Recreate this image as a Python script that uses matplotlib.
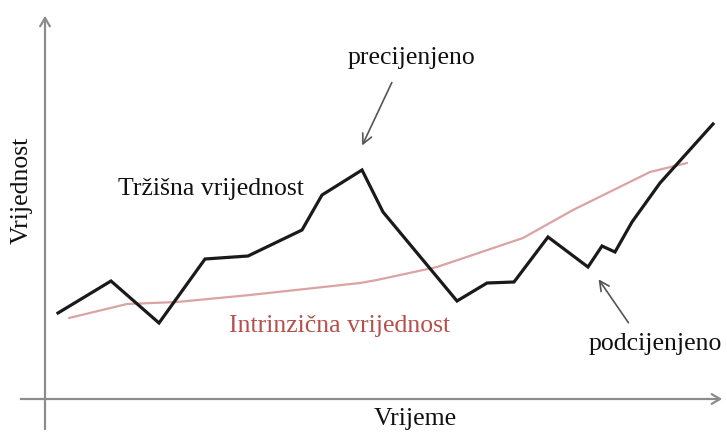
import numpy as np
import matplotlib.pyplot as plt

# time / value (arbitrary units, origin at axes cross)
market_t = [13, 66, 114, 160, 203, 257, 277, 317, 338, 412, 442, 469, 503, 543, 557, 570, 587, 615, 668]
market_v = [86, 118, 76, 140, 143, 169, 204, 229, 187, 98, 116, 117, 162, 132, 153, 147, 177, 216, 275]

intrinsic_t = [24, 82, 132, 205, 315, 332, 392, 478, 528, 605, 642]
intrinsic_v = [81, 95, 97, 104, 116, 119, 132, 161, 189, 227, 236]

serif = ["Liberation Serif", "DejaVu Serif"]
axis_grey = "#8c8c8c"

fig = plt.figure()
fig.set_size_inches(7.27, 4.32)
ax = fig.add_axes([0, 0, 1, 1])
ax.set_xlim(-45, 682)
ax.set_ylim(-33, 399)
ax.axis("off")

# axes with arrow heads
ax.annotate("", xy=(0, 386), xytext=(0, -33),
            arrowprops=dict(arrowstyle="->,head_length=0.6,head_width=0.35", color=axis_grey, lw=1.6))
ax.annotate("", xy=(680, 0), xytext=(-27, 0),
            arrowprops=dict(arrowstyle="->,head_length=0.6,head_width=0.35", color=axis_grey, lw=1.6))

ax.plot(intrinsic_t, intrinsic_v, color="#dba3a2", lw=1.6, solid_capstyle="round")
ax.plot(market_t, market_v, color="#1a1a1a", lw=2.3, solid_joinstyle="miter")

fs = 18.5
ax.text(73, 204, "Tržišna vrijednost", family=serif, fontsize=fs, ha="left", va="baseline", color="#111111")
ax.text(184, 67, "Intrinzična vrijednost", family=serif, fontsize=fs, ha="left", va="baseline", color="#b5504c")
ax.text(366, 335, "precijenjeno", family=serif, fontsize=fs, ha="center", va="baseline", color="#111111")
ax.text(544, 49, "podcijenjeno", family=serif, fontsize=fs, ha="left", va="baseline", color="#111111")
ax.text(370, -26, "Vrijeme", family=serif, fontsize=fs, ha="center", va="baseline", color="#111111")
ax.text(-23, 209, "Vrijednost", family=serif, fontsize=fs, ha="center", va="center", rotation=90, color="#111111")

# pointer arrows
ax.annotate("", xy=(316, 251), xytext=(348, 319),
            arrowprops=dict(arrowstyle="->,head_length=0.7,head_width=0.35", color="#555555", lw=1.2))
ax.annotate("", xy=(552, 122), xytext=(585, 74),
            arrowprops=dict(arrowstyle="->,head_length=0.7,head_width=0.35", color="#555555", lw=1.2))

fig.savefig("out.png", dpi=100)
